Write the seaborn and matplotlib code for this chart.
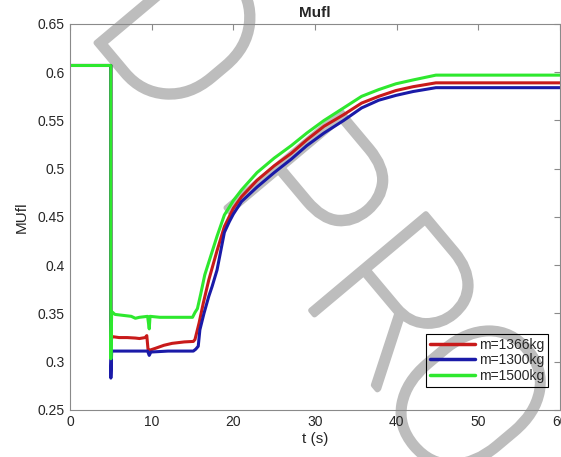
import matplotlib
matplotlib.use("Agg")
import matplotlib.pyplot as plt
import matplotlib.patheffects as pe
import seaborn as sns
import pandas as pd

# series (t in s, MUfl)
t_1366 = [0, 5.0, 5.0, 5.15, 6, 7, 8, 8.5, 9.2, 9.4, 9.55, 9.8, 10.5, 11.5, 12.5, 14, 15.1,
          15.3, 15.8, 16.3, 17.0, 17.5, 18.0, 18.9, 20, 21, 22.9, 25, 27.1, 29, 31.1, 33.5,
          35.7, 37.8, 39.9, 42, 44.8, 60]
mu_1366 = [0.607, 0.607, 0.320, 0.326, 0.325, 0.325, 0.3245, 0.324, 0.325, 0.327, 0.313, 0.312,
           0.314, 0.317, 0.319, 0.3205, 0.321, 0.323, 0.340, 0.360, 0.385, 0.400, 0.415, 0.440,
           0.459, 0.471, 0.488, 0.503, 0.516, 0.530, 0.544, 0.556, 0.568, 0.575, 0.581, 0.585,
           0.589, 0.589]

t_1300 = [0, 5.0, 5.0, 5.1, 9.5, 9.7, 9.9, 12, 15.1, 15.4, 15.7, 15.9, 16.4, 17.0, 17.4, 18.0,
          18.9, 19.5, 20, 21, 22.9, 25, 27.1, 29, 31.1, 33.5, 35.7, 37.8, 39.9, 42, 44.8, 60]
mu_1300 = [0.607, 0.607, 0.283, 0.311, 0.311, 0.3065, 0.310, 0.311, 0.311, 0.313, 0.316, 0.333,
           0.350, 0.368, 0.378, 0.395, 0.434, 0.445, 0.453, 0.466, 0.481, 0.496, 0.510, 0.524,
           0.537, 0.550, 0.563, 0.571, 0.576, 0.580, 0.584, 0.584]

t_1500 = [0, 5.0, 5.0, 5.1, 5.5, 6.5, 7.5, 8.0, 8.5, 9.5, 9.7, 9.8, 11, 13, 15, 15.3, 15.6,
          16.0, 16.5, 17.1, 18.0, 18.9, 20, 21, 22.9, 25, 27.1, 29, 31.1, 33.5, 35.7, 37.8,
          39.9, 42, 44.8, 60]
mu_1500 = [0.607, 0.607, 0.303, 0.352, 0.349, 0.348, 0.347, 0.345, 0.346, 0.347, 0.334, 0.347,
           0.346, 0.346, 0.346, 0.351, 0.355, 0.370, 0.390, 0.406, 0.430, 0.452, 0.467, 0.478,
           0.496, 0.511, 0.524, 0.537, 0.550, 0.563, 0.575, 0.582, 0.588, 0.592, 0.597, 0.597]

labels = ['m=1366kg', 'm=1300kg', 'm=1500kg']
colors = ['#c81a1a', '#1a1aa8', '#2ee82e']
y_ticks = [0.25, 0.3, 0.35, 0.4, 0.45, 0.5, 0.55, 0.6, 0.65]
y_tick_labels = ['0.25', '0.3', '0.35', '0.4', '0.45', '0.5', '0.55', '0.6', '0.65']
x_ticks = [0, 10, 20, 30, 40, 50, 60]

frames = []
for lab, t, mu in zip(labels, [t_1366, t_1300, t_1500], [mu_1366, mu_1300, mu_1500]):
    frames.append(pd.DataFrame({'t': t, 'MUfl': mu, 'mass': lab}))
df = pd.concat(frames, ignore_index=True)

sns.set_theme(style='white')
plt.rcParams['font.family'] = ['Liberation Sans', 'DejaVu Sans']

fig = plt.figure(figsize=(5.61, 4.57), dpi=100)
ax = fig.add_axes([0.1248, 0.103, 0.8735, 0.8445])
ax.patch.set_facecolor('none')  # transparent so the watermark behind the axes shows

sns.lineplot(data=df, x='t', y='MUfl', hue='mass', hue_order=labels,
             palette=dict(zip(labels, colors)), estimator=None, sort=False,
             lw=2.2, ax=ax)

ax.set_xlim(0, 60)
ax.set_ylim(0.25, 0.65)
ax.set_xticks(x_ticks)
ax.set_yticks(y_ticks)
ax.set_yticklabels(y_tick_labels)
ax.tick_params(direction='in', top=True, right=True, length=4, width=0.8,
               colors='#8a8a8a', labelcolor='#262626', labelsize=10, pad=4)
for sp in ax.spines.values():
    sp.set_color('#8a8a8a')
    sp.set_linewidth(0.8)

ax.set_title('Mufl', fontsize=11, fontweight='bold', pad=5)
ax.set_xlabel('t (s)', fontsize=11, color='#262626', labelpad=2)
ax.set_ylabel('MUfl', fontsize=11, color='#262626', labelpad=6)

handles, _ = ax.get_legend_handles_labels()
leg = ax.legend(handles, labels, loc='lower right', bbox_to_anchor=(0.976, 0.06),
                frameon=True, fancybox=False, fontsize=10, borderaxespad=0,
                borderpad=0.3, labelspacing=0.1, handlelength=3.2, handletextpad=0.3)
frame = leg.get_frame()
frame.set_alpha(None)
frame.set_facecolor('none')   # see-through box so the watermark shows inside
frame.set_edgecolor('black')
frame.set_linewidth(0.8)
for ln in leg.get_lines():
    ln.set_linewidth(2.5)

# watermark letters: light gray, behind the axes, a wide stroke thickens the glyphs
marks = [('D', 83, 27), ('P', 213, 192), ('R', 298, 295), ('O', 368, 392)]
for ch, px, py in marks:
    fig.text(px / 561, 1 - py / 457, ch, rotation=-50,
             rotation_mode='anchor', ha='left', va='baseline', fontsize=152,
             color='#bdbdbd', fontweight='light', family=['Roboto', 'DejaVu Sans'],
             zorder=-1,
             path_effects=[pe.withStroke(linewidth=4.0, foreground='#bdbdbd')])

fig.savefig('out.png', dpi=100)
